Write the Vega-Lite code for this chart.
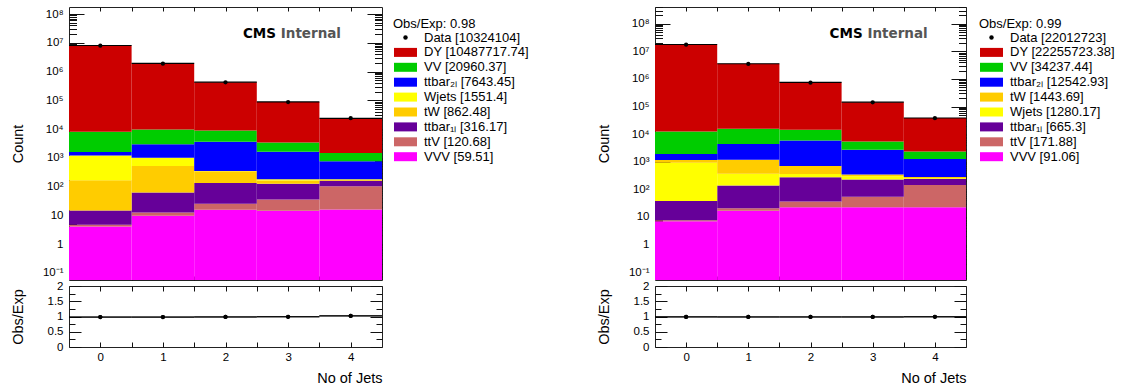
{
  "$schema": "https://vega.github.io/schema/vega-lite/v6.json",
  "padding": {"left": 9, "top": 6, "right": 5, "bottom": 0},
  "datasets": {
    "mc": [
      {"panel": "L", "process": "VVV", "nj": 0, "count": 4.1},
      {"panel": "L", "process": "VVV", "nj": 1, "count": 9.6},
      {"panel": "L", "process": "VVV", "nj": 2, "count": 15.6},
      {"panel": "L", "process": "VVV", "nj": 3, "count": 14.4},
      {"panel": "L", "process": "VVV", "nj": 4, "count": 15.81},
      {"panel": "L", "process": "ttV", "nj": 0, "count": 0.6},
      {"panel": "L", "process": "ttV", "nj": 1, "count": 3.0},
      {"panel": "L", "process": "ttV", "nj": 2, "count": 9.5},
      {"panel": "L", "process": "ttV", "nj": 3, "count": 21},
      {"panel": "L", "process": "ttV", "nj": 4, "count": 86.58},
      {"panel": "L", "process": "ttbar1L", "nj": 0, "count": 10},
      {"panel": "L", "process": "ttbar1L", "nj": 1, "count": 50},
      {"panel": "L", "process": "ttbar1L", "nj": 2, "count": 108},
      {"panel": "L", "process": "ttbar1L", "nj": 3, "count": 90},
      {"panel": "L", "process": "ttbar1L", "nj": 4, "count": 58.17},
      {"panel": "L", "process": "tW", "nj": 0, "count": 150},
      {"panel": "L", "process": "tW", "nj": 1, "count": 455},
      {"panel": "L", "process": "tW", "nj": 2, "count": 210},
      {"panel": "L", "process": "tW", "nj": 3, "count": 38},
      {"panel": "L", "process": "tW", "nj": 4, "count": 9.48},
      {"panel": "L", "process": "Wjets", "nj": 0, "count": 1040},
      {"panel": "L", "process": "Wjets", "nj": 1, "count": 480},
      {"panel": "L", "process": "Wjets", "nj": 2, "count": 8},
      {"panel": "L", "process": "Wjets", "nj": 3, "count": 15},
      {"panel": "L", "process": "Wjets", "nj": 4, "count": 8.4},
      {"panel": "L", "process": "ttbar2L", "nj": 0, "count": 390},
      {"panel": "L", "process": "ttbar2L", "nj": 1, "count": 1980},
      {"panel": "L", "process": "ttbar2L", "nj": 2, "count": 3250},
      {"panel": "L", "process": "ttbar2L", "nj": 3, "count": 1440},
      {"panel": "L", "process": "ttbar2L", "nj": 4, "count": 583.45},
      {"panel": "L", "process": "VV", "nj": 0, "count": 6400},
      {"panel": "L", "process": "VV", "nj": 1, "count": 6700},
      {"panel": "L", "process": "VV", "nj": 2, "count": 5350},
      {"panel": "L", "process": "VV", "nj": 3, "count": 1800},
      {"panel": "L", "process": "VV", "nj": 4, "count": 710.37},
      {"panel": "L", "process": "DY", "nj": 0, "count": 8052000},
      {"panel": "L", "process": "DY", "nj": 1, "count": 1910000},
      {"panel": "L", "process": "DY", "nj": 2, "count": 419400},
      {"panel": "L", "process": "DY", "nj": 3, "count": 84400},
      {"panel": "L", "process": "DY", "nj": 4, "count": 21917.74},
      {"panel": "R", "process": "VVV", "nj": 0, "count": 7},
      {"panel": "R", "process": "VVV", "nj": 1, "count": 17},
      {"panel": "R", "process": "VVV", "nj": 2, "count": 22.4},
      {"panel": "R", "process": "VVV", "nj": 3, "count": 22.3},
      {"panel": "R", "process": "VVV", "nj": 4, "count": 22.36},
      {"panel": "R", "process": "ttV", "nj": 0, "count": 0.6},
      {"panel": "R", "process": "ttV", "nj": 1, "count": 3.7},
      {"panel": "R", "process": "ttV", "nj": 2, "count": 14},
      {"panel": "R", "process": "ttV", "nj": 3, "count": 32},
      {"panel": "R", "process": "ttV", "nj": 4, "count": 121.58},
      {"panel": "R", "process": "ttbar1L", "nj": 0, "count": 30},
      {"panel": "R", "process": "ttbar1L", "nj": 1, "count": 118},
      {"panel": "R", "process": "ttbar1L", "nj": 2, "count": 241},
      {"panel": "R", "process": "ttbar1L", "nj": 3, "count": 176},
      {"panel": "R", "process": "ttbar1L", "nj": 4, "count": 100.3},
      {"panel": "R", "process": "Wjets", "nj": 0, "count": 890},
      {"panel": "R", "process": "Wjets", "nj": 1, "count": 230},
      {"panel": "R", "process": "Wjets", "nj": 2, "count": 82},
      {"panel": "R", "process": "Wjets", "nj": 3, "count": 66},
      {"panel": "R", "process": "Wjets", "nj": 4, "count": 12.17},
      {"panel": "R", "process": "tW", "nj": 0, "count": 225},
      {"panel": "R", "process": "tW", "nj": 1, "count": 805},
      {"panel": "R", "process": "tW", "nj": 2, "count": 340},
      {"panel": "R", "process": "tW", "nj": 3, "count": 48},
      {"panel": "R", "process": "tW", "nj": 4, "count": 25.69},
      {"panel": "R", "process": "ttbar2L", "nj": 0, "count": 765},
      {"panel": "R", "process": "ttbar2L", "nj": 1, "count": 3200},
      {"panel": "R", "process": "ttbar2L", "nj": 2, "count": 5230},
      {"panel": "R", "process": "ttbar2L", "nj": 3, "count": 2380},
      {"panel": "R", "process": "ttbar2L", "nj": 4, "count": 967.93},
      {"panel": "R", "process": "VV", "nj": 0, "count": 10600},
      {"panel": "R", "process": "VV", "nj": 1, "count": 11260},
      {"panel": "R", "process": "VV", "nj": 2, "count": 8540},
      {"panel": "R", "process": "VV", "nj": 3, "count": 2720},
      {"panel": "R", "process": "VV", "nj": 4, "count": 1117.44},
      {"panel": "R", "process": "DY", "nj": 0, "count": 17795000},
      {"panel": "R", "process": "DY", "nj": 1, "count": 3551000},
      {"panel": "R", "process": "DY", "nj": 2, "count": 734000},
      {"panel": "R", "process": "DY", "nj": 3, "count": 139500},
      {"panel": "R", "process": "DY", "nj": 4, "count": 36223.38}
    ],
    "obs": [
      {"panel": "L", "nj": 0, "count": 7907246, "ratio": 0.981},
      {"panel": "L", "nj": 1, "count": 1884000, "ratio": 0.981},
      {"panel": "L", "nj": 2, "count": 422000, "ratio": 0.985},
      {"panel": "L", "nj": 3, "count": 87000, "ratio": 0.991},
      {"panel": "L", "nj": 4, "count": 23858, "ratio": 1.02},
      {"panel": "R", "nj": 0, "count": 17581723, "ratio": 0.987},
      {"panel": "R", "nj": 1, "count": 3513000, "ratio": 0.985},
      {"panel": "R", "nj": 2, "count": 737000, "ratio": 0.985},
      {"panel": "R", "nj": 3, "count": 142800, "ratio": 0.985},
      {"panel": "R", "nj": 4, "count": 38200, "ratio": 0.99}
    ]
  },
  "columns": 2,
  "spacing": {"row": 6, "column": 273},
  "bounds": "flush",
  "resolve": {
    "scale": {"color": "independent", "x": "independent", "y": "independent"},
    "legend": {"color": "independent"}
  },
  "concat": [
    {
      "width": 313,
      "height": 273,
      "layer": [
        {
          "data": {"name": "mc"},
          "transform": [
            {"filter": "datum.panel === 'L'"},
            {"bin": {"extent": [-0.5, 4.5], "step": 1, "nice": false, "anchor": -0.5}, "field": "nj", "as": ["b", "b_end"]},
            {"stack": "count", "groupby": ["nj"], "as": ["lo", "hi"]}
          ],
          "mark": {"type": "rect", "strokeWidth": 0},
          "encoding": {
            "x": {"field": "b", "type": "quantitative", "scale": {"domain": [-0.5, 4.5], "nice": false, "zero": false},
              "axis": {"orient": "bottom", "values": [0, 0.5, 1, 1.5, 2, 2.5, 3, 3.5, 4], "labels": false, "title": null, "tickSize": -4}},
            "x2": {"field": "b_end"},
            "y": {"field": "hi", "type": "quantitative", "scale": {"type": "log", "domain": [0.0562, 176000000], "nice": false, "clamp": true},
              "axis": {"orient": "left", "labelOverlap": false, "tickSize": -15, "labelPadding": 21, "title": "Count", "titleX": -47, "titleBaseline": "alphabetic", "titleAngle": 270,
                "values": [0.1, 1, 10, 100, 1000, 10000, 100000, 1000000, 10000000, 100000000],
                "labelExpr": "['10⁻¹','1','10','10²','10³','10⁴','10⁵','10⁶','10⁷','10⁸'][round(log(datum.value)/LN10)+1]"}},
            "y2": {"field": "lo"},
            "color": {"field": "process", "type": "nominal",
              "scale": {"domain": ["Data", "DY", "VV", "ttbar2L", "Wjets", "tW", "ttbar1L", "ttV", "VVV"],
                "range": ["#000000", "#cc0000", "#00cc00", "#0000ff", "#ffff00", "#ffcc00", "#660099", "#cc6666", "#ff00ff"]},
              "legend": {"orient": "none", "legendX": 324, "legendY": 11, "title": "Obs/Exp: 0.98",
                "labelExpr": "{'Data': 'Data [10324104]', 'DY': 'DY [10487717.74]', 'VV': 'VV [20960.37]', 'ttbar2L': 'ttbar₂ₗ [7643.45]', 'Wjets': 'Wjets [1551.4]', 'tW': 'tW [862.48]', 'ttbar1L': 'ttbar₁ₗ [316.17]', 'ttV': 'ttV [120.68]', 'VVV': 'VVV [59.51]'}[datum.label]",
                "encode": {"symbols": {"update": {
                  "shape": {"signal": "datum.value === 'Data' ? 'circle' : 'M-2.556,-1H2.556V1H-2.556Z'"},
                  "size": {"signal": "datum.value === 'Data' ? 20 : 81"}}}}}}
          }
        },
        {
          "data": {"name": "mc"},
          "transform": [
            {"filter": "datum.panel === 'L'"},
            {"bin": {"extent": [-0.5, 4.5], "step": 1, "nice": false, "anchor": -0.5}, "field": "nj", "as": ["b", "b_end"]},
            {"stack": "count", "groupby": ["nj"], "as": ["lo", "hi"]},
            {"filter": "datum.process === 'DY'"}
          ],
          "mark": {"type": "rule", "color": "black", "strokeWidth": 1.2},
          "encoding": {
            "x": {"field": "b", "type": "quantitative", "scale": {"domain": [-0.5, 4.5], "nice": false, "zero": false}, "axis": null},
            "x2": {"field": "b_end"},
            "y": {"field": "hi", "type": "quantitative", "scale": {"type": "log", "domain": [0.0562, 176000000], "nice": false, "clamp": true},
              "axis": {"orient": "left", "labels": false, "title": null, "tickSize": -7.5,
                "values": [0.06,0.07,0.08,0.09,0.2,0.3,0.4,0.5,0.6,0.7,0.8,0.9,2,3,4,5,6,7,8,9,20,30,40,50,60,70,80,90,200,300,400,500,600,700,800,900,2000,3000,4000,5000,6000,7000,8000,9000,20000,30000,40000,50000,60000,70000,80000,90000,200000,300000,400000,500000,600000,700000,800000,900000,2000000,3000000,4000000,5000000,6000000,7000000,8000000,9000000,20000000,30000000,40000000,50000000,60000000,70000000,80000000,90000000]}}
          }
        },
        {
          "data": {"name": "obs"},
          "transform": [{"filter": "datum.panel === 'L'"}],
          "mark": {"type": "circle", "size": 18, "color": "black", "opacity": 1},
          "encoding": {
            "x": {"field": "nj", "type": "quantitative", "scale": {"domain": [-0.5, 4.5], "nice": false, "zero": false},
              "axis": {"orient": "top", "values": [0, 0.5, 1, 1.5, 2, 2.5, 3, 3.5, 4], "labels": false, "title": null, "tickSize": -4}},
            "y": {"field": "count", "type": "quantitative", "scale": {"type": "log", "domain": [0.0562, 176000000], "nice": false, "clamp": true},
              "axis": {"orient": "right", "labels": false, "title": null, "tickSize": -15,
                "values": [0.1, 1, 10, 100, 1000, 10000, 100000, 1000000, 10000000, 100000000]}}
          }
        },
        {
          "data": {"values": [{}]},
          "mark": {"type": "text", "text": "CMS", "font": "DejaVu Sans", "fontWeight": "bold", "fontSize": 13.5, "align": "right", "baseline": "alphabetic", "color": "black"},
          "encoding": {
            "x": {"datum": 2.807, "type": "quantitative", "scale": {"domain": [-0.5, 4.5], "nice": false, "zero": false}, "axis": null},
            "y": {"datum": 15200000, "type": "quantitative", "scale": {"type": "log", "domain": [0.0562, 176000000], "nice": false, "clamp": true},
              "axis": {"orient": "right", "labels": false, "title": null, "tickSize": -7.5,
                "values": [0.06,0.07,0.08,0.09,0.2,0.3,0.4,0.5,0.6,0.7,0.8,0.9,2,3,4,5,6,7,8,9,20,30,40,50,60,70,80,90,200,300,400,500,600,700,800,900,2000,3000,4000,5000,6000,7000,8000,9000,20000,30000,40000,50000,60000,70000,80000,90000,200000,300000,400000,500000,600000,700000,800000,900000,2000000,3000000,4000000,5000000,6000000,7000000,8000000,9000000,20000000,30000000,40000000,50000000,60000000,70000000,80000000,90000000]}}
          }
        },
        {
          "data": {"values": [{}]},
          "mark": {"type": "text", "text": "Internal", "font": "DejaVu Sans", "fontWeight": "bold", "fontSize": 13.5, "align": "right", "baseline": "alphabetic", "color": "#555555"},
          "encoding": {
            "x": {"datum": 3.845, "type": "quantitative", "scale": {"domain": [-0.5, 4.5], "nice": false, "zero": false}, "axis": null},
            "y": {"datum": 15200000, "type": "quantitative", "scale": {"type": "log", "domain": [0.0562, 176000000], "nice": false, "clamp": true}, "axis": null}
          }
        }
      ],
      "resolve": {"axis": {"x": "independent", "y": "independent"}}
    },
    {
      "width": 311,
      "height": 273,
      "layer": [
        {
          "data": {"name": "mc"},
          "transform": [
            {"filter": "datum.panel === 'R'"},
            {"bin": {"extent": [-0.5, 4.5], "step": 1, "nice": false, "anchor": -0.5}, "field": "nj", "as": ["b", "b_end"]},
            {"stack": "count", "groupby": ["nj"], "as": ["lo", "hi"]}
          ],
          "mark": {"type": "rect", "strokeWidth": 0},
          "encoding": {
            "x": {"field": "b", "type": "quantitative", "scale": {"domain": [-0.5, 4.5], "nice": false, "zero": false},
              "axis": {"orient": "bottom", "values": [0, 0.5, 1, 1.5, 2, 2.5, 3, 3.5, 4], "labels": false, "title": null, "tickSize": -4}},
            "x2": {"field": "b_end"},
            "y": {"field": "hi", "type": "quantitative", "scale": {"type": "log", "domain": [0.0521, 406000000], "nice": false, "clamp": true},
              "axis": {"orient": "left", "labelOverlap": false, "tickSize": -15, "labelPadding": 21, "title": "Count", "titleX": -47, "titleBaseline": "alphabetic", "titleAngle": 270,
                "values": [0.1, 1, 10, 100, 1000, 10000, 100000, 1000000, 10000000, 100000000],
                "labelExpr": "['10⁻¹','1','10','10²','10³','10⁴','10⁵','10⁶','10⁷','10⁸'][round(log(datum.value)/LN10)+1]"}},
            "y2": {"field": "lo"},
            "color": {"field": "process", "type": "nominal",
              "scale": {"domain": ["Data", "DY", "VV", "ttbar2L", "tW", "Wjets", "ttbar1L", "ttV", "VVV"],
                "range": ["#000000", "#cc0000", "#00cc00", "#0000ff", "#ffcc00", "#ffff00", "#660099", "#cc6666", "#ff00ff"]},
              "legend": {"orient": "none", "legendX": 324, "legendY": 11, "title": "Obs/Exp: 0.99",
                "labelExpr": "{'Data': 'Data [22012723]', 'DY': 'DY [22255723.38]', 'VV': 'VV [34237.44]', 'ttbar2L': 'ttbar₂ₗ [12542.93]', 'tW': 'tW [1443.69]', 'Wjets': 'Wjets [1280.17]', 'ttbar1L': 'ttbar₁ₗ [665.3]', 'ttV': 'ttV [171.88]', 'VVV': 'VVV [91.06]'}[datum.label]",
                "encode": {"symbols": {"update": {
                  "shape": {"signal": "datum.value === 'Data' ? 'circle' : 'M-2.556,-1H2.556V1H-2.556Z'"},
                  "size": {"signal": "datum.value === 'Data' ? 20 : 81"}}}}}}
          }
        },
        {
          "data": {"name": "mc"},
          "transform": [
            {"filter": "datum.panel === 'R'"},
            {"bin": {"extent": [-0.5, 4.5], "step": 1, "nice": false, "anchor": -0.5}, "field": "nj", "as": ["b", "b_end"]},
            {"stack": "count", "groupby": ["nj"], "as": ["lo", "hi"]},
            {"filter": "datum.process === 'DY'"}
          ],
          "mark": {"type": "rule", "color": "black", "strokeWidth": 1.2},
          "encoding": {
            "x": {"field": "b", "type": "quantitative", "scale": {"domain": [-0.5, 4.5], "nice": false, "zero": false}, "axis": null},
            "x2": {"field": "b_end"},
            "y": {"field": "hi", "type": "quantitative", "scale": {"type": "log", "domain": [0.0521, 406000000], "nice": false, "clamp": true},
              "axis": {"orient": "left", "labels": false, "title": null, "tickSize": -7.5,
                "values": [0.06,0.07,0.08,0.09,0.2,0.3,0.4,0.5,0.6,0.7,0.8,0.9,2,3,4,5,6,7,8,9,20,30,40,50,60,70,80,90,200,300,400,500,600,700,800,900,2000,3000,4000,5000,6000,7000,8000,9000,20000,30000,40000,50000,60000,70000,80000,90000,200000,300000,400000,500000,600000,700000,800000,900000,2000000,3000000,4000000,5000000,6000000,7000000,8000000,9000000,20000000,30000000,40000000,50000000,60000000,70000000,80000000,90000000,200000000,300000000,400000000]}}
          }
        },
        {
          "data": {"name": "obs"},
          "transform": [{"filter": "datum.panel === 'R'"}],
          "mark": {"type": "circle", "size": 18, "color": "black", "opacity": 1},
          "encoding": {
            "x": {"field": "nj", "type": "quantitative", "scale": {"domain": [-0.5, 4.5], "nice": false, "zero": false},
              "axis": {"orient": "top", "values": [0, 0.5, 1, 1.5, 2, 2.5, 3, 3.5, 4], "labels": false, "title": null, "tickSize": -4}},
            "y": {"field": "count", "type": "quantitative", "scale": {"type": "log", "domain": [0.0521, 406000000], "nice": false, "clamp": true},
              "axis": {"orient": "right", "labels": false, "title": null, "tickSize": -15,
                "values": [0.1, 1, 10, 100, 1000, 10000, 100000, 1000000, 10000000, 100000000]}}
          }
        },
        {
          "data": {"values": [{}]},
          "mark": {"type": "text", "text": "CMS", "font": "DejaVu Sans", "fontWeight": "bold", "fontSize": 13.5, "align": "right", "baseline": "alphabetic", "color": "black"},
          "encoding": {
            "x": {"datum": 2.839, "type": "quantitative", "scale": {"domain": [-0.5, 4.5], "nice": false, "zero": false}, "axis": null},
            "y": {"datum": 31600000, "type": "quantitative", "scale": {"type": "log", "domain": [0.0521, 406000000], "nice": false, "clamp": true},
              "axis": {"orient": "right", "labels": false, "title": null, "tickSize": -7.5,
                "values": [0.06,0.07,0.08,0.09,0.2,0.3,0.4,0.5,0.6,0.7,0.8,0.9,2,3,4,5,6,7,8,9,20,30,40,50,60,70,80,90,200,300,400,500,600,700,800,900,2000,3000,4000,5000,6000,7000,8000,9000,20000,30000,40000,50000,60000,70000,80000,90000,200000,300000,400000,500000,600000,700000,800000,900000,2000000,3000000,4000000,5000000,6000000,7000000,8000000,9000000,20000000,30000000,40000000,50000000,60000000,70000000,80000000,90000000,200000000,300000000,400000000]}}
          }
        },
        {
          "data": {"values": [{}]},
          "mark": {"type": "text", "text": "Internal", "font": "DejaVu Sans", "fontWeight": "bold", "fontSize": 13.5, "align": "right", "baseline": "alphabetic", "color": "#555555"},
          "encoding": {
            "x": {"datum": 3.884, "type": "quantitative", "scale": {"domain": [-0.5, 4.5], "nice": false, "zero": false}, "axis": null},
            "y": {"datum": 31600000, "type": "quantitative", "scale": {"type": "log", "domain": [0.0521, 406000000], "nice": false, "clamp": true}, "axis": null}
          }
        }
      ],
      "resolve": {"axis": {"x": "independent", "y": "independent"}}
    },
    {
      "width": 313,
      "height": 61,
      "layer": [
        {
          "data": {"name": "obs"},
          "transform": [
            {"filter": "datum.panel === 'L'"},
            {"bin": {"extent": [-0.5, 4.5], "step": 1, "nice": false, "anchor": -0.5}, "field": "nj", "as": ["b", "b_end"]}
          ],
          "mark": {"type": "rule", "color": "black", "strokeWidth": 1},
          "encoding": {
            "x": {"field": "b", "type": "quantitative", "scale": {"domain": [-0.5, 4.5], "nice": false, "zero": false},
              "axis": {"orient": "bottom", "values": [0, 0.5, 1, 1.5, 2, 2.5, 3, 3.5, 4], "tickSize": -5, "labelPadding": 9, "labelOverlap": false,
                "labelExpr": "datum.value % 1 === 0 ? '' + datum.value : ''",
                "title": "No of Jets", "titleAnchor": "end", "titleBaseline": "alphabetic", "titleY": 35}},
            "x2": {"field": "b_end"},
            "y": {"field": "ratio", "type": "quantitative", "scale": {"domain": [0, 2], "nice": false, "zero": false},
              "axis": {"orient": "left", "values": [0, 0.5, 1, 1.5, 2], "tickSize": -12, "labelPadding": 18, "labelOverlap": false,
                "labelExpr": "'' + datum.value",
                "title": "Obs/Exp", "titleX": -47, "titleBaseline": "alphabetic", "titleAngle": 270}}
          }
        },
        {
          "data": {"name": "obs"},
          "transform": [{"filter": "datum.panel === 'L'"}],
          "mark": {"type": "circle", "size": 18, "color": "black", "opacity": 1},
          "encoding": {
            "x": {"field": "nj", "type": "quantitative", "scale": {"domain": [-0.5, 4.5], "nice": false, "zero": false},
              "axis": {"orient": "top", "values": [0, 0.5, 1, 1.5, 2, 2.5, 3, 3.5, 4], "labels": false, "title": null, "tickSize": -5}},
            "y": {"field": "ratio", "type": "quantitative", "scale": {"domain": [0, 2], "nice": false, "zero": false},
              "axis": {"orient": "right", "values": [0, 0.5, 1, 1.5, 2], "labels": false, "title": null, "tickSize": -12}}
          }
        },
        {
          "data": {"name": "obs"},
          "transform": [
            {"filter": "datum.panel === 'L'"},
            {"bin": {"extent": [-0.5, 4.5], "step": 1, "nice": false, "anchor": -0.5}, "field": "nj", "as": ["b", "b_end"]}
          ],
          "mark": {"type": "rule", "color": "black", "strokeWidth": 1},
          "encoding": {
            "x": {"field": "b", "type": "quantitative", "scale": {"domain": [-0.5, 4.5], "nice": false, "zero": false}, "axis": null},
            "x2": {"field": "b_end"},
            "y": {"field": "ratio", "type": "quantitative", "scale": {"domain": [0, 2], "nice": false, "zero": false},
              "axis": {"orient": "left", "values": [0.25, 0.75, 1.25, 1.75], "labels": false, "title": null, "tickSize": -6}}
          }
        },
        {
          "data": {"name": "obs"},
          "transform": [{"filter": "datum.panel === 'L'"}],
          "mark": {"type": "circle", "size": 18, "color": "black", "opacity": 1},
          "encoding": {
            "x": {"field": "nj", "type": "quantitative", "scale": {"domain": [-0.5, 4.5], "nice": false, "zero": false}, "axis": null},
            "y": {"field": "ratio", "type": "quantitative", "scale": {"domain": [0, 2], "nice": false, "zero": false},
              "axis": {"orient": "right", "values": [0.25, 0.75, 1.25, 1.75], "labels": false, "title": null, "tickSize": -6}}
          }
        }
      ],
      "resolve": {"axis": {"x": "independent", "y": "independent"}}
    },
    {
      "width": 311,
      "height": 61,
      "layer": [
        {
          "data": {"name": "obs"},
          "transform": [
            {"filter": "datum.panel === 'R'"},
            {"bin": {"extent": [-0.5, 4.5], "step": 1, "nice": false, "anchor": -0.5}, "field": "nj", "as": ["b", "b_end"]}
          ],
          "mark": {"type": "rule", "color": "black", "strokeWidth": 1},
          "encoding": {
            "x": {"field": "b", "type": "quantitative", "scale": {"domain": [-0.5, 4.5], "nice": false, "zero": false},
              "axis": {"orient": "bottom", "values": [0, 0.5, 1, 1.5, 2, 2.5, 3, 3.5, 4], "tickSize": -5, "labelPadding": 9, "labelOverlap": false,
                "labelExpr": "datum.value % 1 === 0 ? '' + datum.value : ''",
                "title": "No of Jets", "titleAnchor": "end", "titleBaseline": "alphabetic", "titleY": 35}},
            "x2": {"field": "b_end"},
            "y": {"field": "ratio", "type": "quantitative", "scale": {"domain": [0, 2], "nice": false, "zero": false},
              "axis": {"orient": "left", "values": [0, 0.5, 1, 1.5, 2], "tickSize": -12, "labelPadding": 18, "labelOverlap": false,
                "labelExpr": "'' + datum.value",
                "title": "Obs/Exp", "titleX": -47, "titleBaseline": "alphabetic", "titleAngle": 270}}
          }
        },
        {
          "data": {"name": "obs"},
          "transform": [{"filter": "datum.panel === 'R'"}],
          "mark": {"type": "circle", "size": 18, "color": "black", "opacity": 1},
          "encoding": {
            "x": {"field": "nj", "type": "quantitative", "scale": {"domain": [-0.5, 4.5], "nice": false, "zero": false},
              "axis": {"orient": "top", "values": [0, 0.5, 1, 1.5, 2, 2.5, 3, 3.5, 4], "labels": false, "title": null, "tickSize": -5}},
            "y": {"field": "ratio", "type": "quantitative", "scale": {"domain": [0, 2], "nice": false, "zero": false},
              "axis": {"orient": "right", "values": [0, 0.5, 1, 1.5, 2], "labels": false, "title": null, "tickSize": -12}}
          }
        },
        {
          "data": {"name": "obs"},
          "transform": [
            {"filter": "datum.panel === 'R'"},
            {"bin": {"extent": [-0.5, 4.5], "step": 1, "nice": false, "anchor": -0.5}, "field": "nj", "as": ["b", "b_end"]}
          ],
          "mark": {"type": "rule", "color": "black", "strokeWidth": 1},
          "encoding": {
            "x": {"field": "b", "type": "quantitative", "scale": {"domain": [-0.5, 4.5], "nice": false, "zero": false}, "axis": null},
            "x2": {"field": "b_end"},
            "y": {"field": "ratio", "type": "quantitative", "scale": {"domain": [0, 2], "nice": false, "zero": false},
              "axis": {"orient": "left", "values": [0.25, 0.75, 1.25, 1.75], "labels": false, "title": null, "tickSize": -6}}
          }
        },
        {
          "data": {"name": "obs"},
          "transform": [{"filter": "datum.panel === 'R'"}],
          "mark": {"type": "circle", "size": 18, "color": "black", "opacity": 1},
          "encoding": {
            "x": {"field": "nj", "type": "quantitative", "scale": {"domain": [-0.5, 4.5], "nice": false, "zero": false}, "axis": null},
            "y": {"field": "ratio", "type": "quantitative", "scale": {"domain": [0, 2], "nice": false, "zero": false},
              "axis": {"orient": "right", "values": [0.25, 0.75, 1.25, 1.75], "labels": false, "title": null, "tickSize": -6}}
          }
        }
      ],
      "resolve": {"axis": {"x": "independent", "y": "independent"}}
    }
  ],
  "config": {
    "font": "Liberation Sans",
    "view": {"stroke": "#222222", "strokeWidth": 1},
    "axis": {
      "domain": false, "grid": false, "ticks": true, "minExtent": 0, "zindex": 1,
      "labelFont": "Liberation Sans", "labelFontSize": 11.5, "labelColor": "black",
      "titleFont": "Liberation Sans", "titleFontSize": 14.5, "titleFontWeight": "normal", "titleColor": "black",
      "tickColor": "#111111", "tickWidth": 1
    },
    "legend": {
      "labelFont": "Liberation Sans", "labelFontSize": 13, "labelColor": "black", "labelLimit": 200,
      "titleFont": "Liberation Sans", "titleFontSize": 13, "titleFontWeight": "normal", "titleColor": "black",
      "titlePadding": 0, "rowPadding": 0.9, "padding": 0,
      "symbolSize": 81, "symbolOffset": 6, "labelOffset": 12, "symbolStrokeWidth": 0, "symbolType": "square"
    }
  }
}
